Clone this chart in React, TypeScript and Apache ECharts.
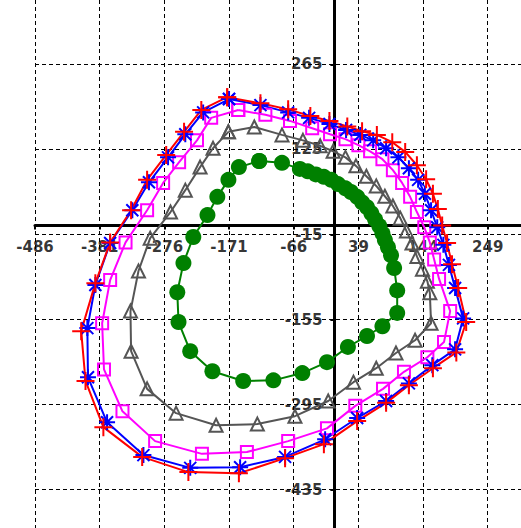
import React, { useEffect, useRef } from "react";
import * as echarts from "echarts";

const xTicks = [-486, -381, -276, -171, -66, 39, 144, 249];
const yTicks = [-435, -295, -155, -15, 125, 265];

const redPoints = [
  [-174, 211], [-120, 201], [-75, 191], [-39, 180], [-8, 172], [21, 163], [45, 155], [69, 149],
  [94, 137], [115, 121], [134, 99], [149, 76], [160, 52], [168, 27], [175, 0], [183, -29],
  [191, -64], [201, -103], [214, -159], [198, -209], [160, -235], [121, -263], [84, -292],
  [37, -322], [-17, -360], [-80, -383], [-155, -408], [-237, -406], [-312, -381], [-375, -332],
  [-404, -256], [-411, -174], [-388, -95], [-364, -28], [-330, 25], [-304, 75], [-273, 116],
  [-244, 154], [-216, 190], [-174, 211],
];

const bluePoints = [
  [-171, 208], [-120, 198], [-75, 186], [-41, 177], [-8, 167], [19, 157], [42, 149], [63, 140],
  [84, 127], [104, 112], [121, 94], [136, 75], [147, 52], [157, 25], [167, -3], [177, -32],
  [186, -65], [196, -103], [209, -153], [196, -204], [159, -230], [121, -260], [84, -289],
  [37, -317], [-15, -352], [-80, -381], [-153, -398], [-234, -399], [-310, -378], [-369, -324],
  [-400, -250], [-401, -169], [-388, -98], [-364, -29], [-328, 25], [-301, 71], [-270, 112],
  [-242, 150], [-213, 186], [-171, 208],
];

const magentaPoints = [
  [-156, 190], [-112, 182], [-72, 172], [-36, 160], [-7, 150], [18, 142], [39, 132], [58, 122],
  [78, 109], [95, 91], [110, 70], [123, 47], [134, 22], [146, -3], [155, -28], [162, -56],
  [170, -88], [188, -141], [178, -192], [151, -217], [113, -241], [79, -269], [34, -297],
  [-12, -334], [-75, -355], [-142, -373], [-215, -376], [-291, -355], [-344, -306], [-374, -237],
  [-377, -161], [-364, -90], [-339, -28], [-304, 25], [-278, 70], [-252, 104], [-223, 140],
  [-200, 177], [-156, 190],
];

const grayPoints = [
  [-172, 154], [-130, 162], [-85, 149], [-51, 140], [-23, 131], [-2, 122], [18, 112], [35, 98],
  [52, 81], [68, 65], [82, 48], [95, 32], [107, 12], [117, -9], [126, -29], [134, -51],
  [143, -72], [151, -92], [155, -111], [157, -161], [131, -189], [100, -210], [68, -235],
  [31, -258], [-10, -289], [-64, -314], [-125, -327], [-192, -329], [-257, -309], [-304, -269],
  [-330, -207], [-331, -141], [-318, -75], [-299, -21], [-266, 22], [-242, 58], [-218, 96],
  [-197, 127], [-172, 154],
];

const greenPoints = [
  [-122, 106], [-85, 103], [-56, 93], [-43, 89], [-30, 84], [-17, 80], [-5, 75], [6, 68],
  [18, 61], [27, 55], [37, 47], [45, 38], [53, 30], [60, 20], [66, 10], [73, -1], [78, -13],
  [82, -24], [87, -36], [92, -49], [97, -70], [102, -107], [102, -144], [78, -166], [53, -182],
  [22, -200], [-12, -225], [-52, -243], [-99, -255], [-148, -256], [-198, -240], [-234, -207],
  [-253, -159], [-255, -110], [-245, -62], [-229, -19], [-206, 17], [-190, 47], [-172, 75],
  [-155, 96], [-122, 106],
];

const labelFont = {
  color: "#000",
  fontSize: 15,
  fontWeight: "bold" as const,
  fontFamily: "DejaVu Sans, Verdana, sans-serif",
};

export default function App() {
  const ref = useRef<HTMLDivElement>(null);
  useEffect(() => {
    if (!ref.current) return;
    const chart = echarts.init(ref.current, null, { renderer: "svg" });
    const axisCommon = {
      type: "value" as const,
      axisLine: { onZero: true, lineStyle: { color: "#000", width: 3 } },
      axisLabel: { show: false },
      splitLine: { show: true, lineStyle: { color: "#000", type: [4, 3], width: 1 } },
    };
    chart.setOption({
      animation: false,
      backgroundColor: "#fff",
      grid: { left: 35, right: 0, top: 0, bottom: 0, containLabel: false, outerBoundsMode: "none" },
      xAxis: {
        ...axisCommon,
        min: -486,
        max: 303,
        axisTick: { show: true, customValues: xTicks, length: 4, lineStyle: { color: "#000", width: 2 } },
      },
      yAxis: {
        ...axisCommon,
        min: -498,
        max: 371,
        axisTick: { show: true, customValues: yTicks, length: 4, lineStyle: { color: "#000", width: 2 } },
      },
      series: [
        {
          type: "scatter",
          z: 1,
          silent: true,
          symbolSize: 0,
          data: xTicks.map((v) => [v, 0]),
          label: {
            show: true,
            position: "bottom",
            distance: 14,
            formatter: (p: any) => String(p.value[0]),
            ...labelFont,
          },
        },
        {
          type: "scatter",
          z: 1,
          silent: true,
          symbolSize: 0,
          data: yTicks.map((v) => [0, v]),
          label: {
            show: true,
            position: "left",
            distance: 12,
            formatter: (p: any) => String(p.value[1]),
            ...labelFont,
          },
        },
        {
          type: "line",
          data: greenPoints,
          symbol: "circle",
          symbolSize: 16,
          itemStyle: { color: "#008000" },
          lineStyle: { color: "#008000", width: 2 },
        },
        {
          type: "line",
          data: grayPoints,
          symbol: "triangle",
          symbolSize: 13,
          itemStyle: { color: "rgba(0,0,0,0)", borderColor: "#555555", borderWidth: 2 },
          lineStyle: { color: "#555555", width: 2 },
        },
        {
          type: "line",
          data: magentaPoints,
          symbol: "rect",
          symbolSize: 12,
          itemStyle: { color: "rgba(0,0,0,0)", borderColor: "#ff00ff", borderWidth: 2 },
          lineStyle: { color: "#ff00ff", width: 2 },
        },
        {
          type: "line",
          data: bluePoints,
          symbol: "path://M8,0L8,16M0,8L16,8M2,2L14,14M14,2L2,14",
          symbolSize: 16,
          itemStyle: { color: "rgba(0,0,0,0)", borderColor: "#0000ff", borderWidth: 2 },
          lineStyle: { color: "#0000ff", width: 2 },
        },
        {
          type: "line",
          data: redPoints,
          symbol: "path://M0,8L16,8M8,0L8,16",
          symbolSize: 18,
          itemStyle: { color: "rgba(0,0,0,0)", borderColor: "#ff0000", borderWidth: 2 },
          lineStyle: { color: "#ff0000", width: 2 },
        },
      ],
    });
    return () => chart.dispose();
  }, []);
  return (
    <div
      ref={ref}
      style={{ position: "absolute", left: 0, top: 0, width: 521, height: 528 }}
    />
  );
}
